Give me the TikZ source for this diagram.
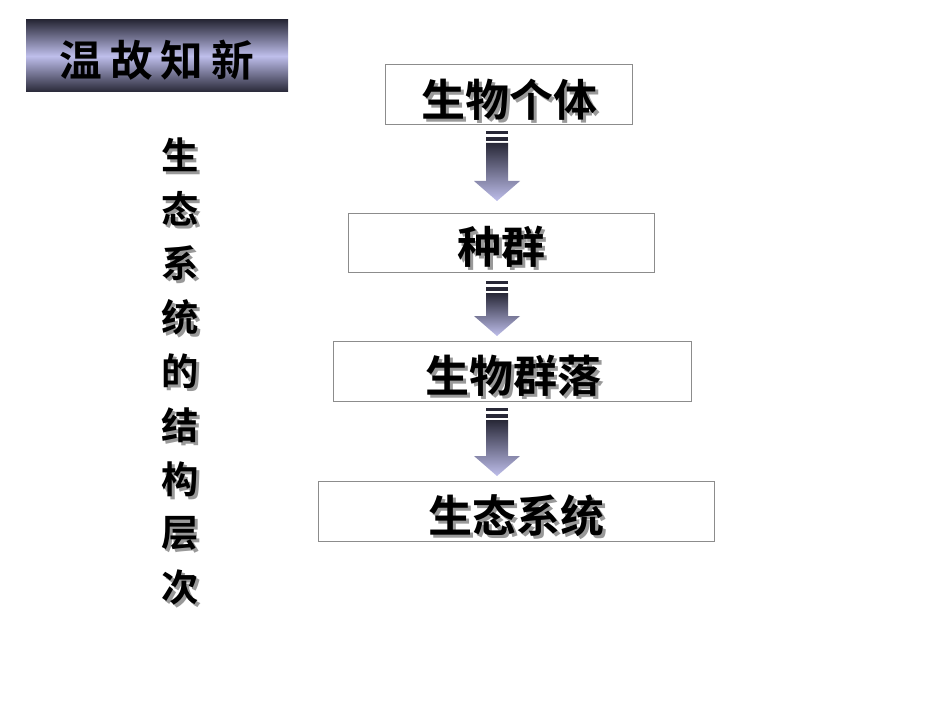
\documentclass[tikz,border=0pt]{standalone}
\usepackage{fontspec}
\newfontfamily\cjk{Noto Sans CJK SC Bold}
\usetikzlibrary{shadings}
\definecolor{lav}{RGB}{190,190,235}
\definecolor{dk}{RGB}{40,40,55}
\tikzset{
  lvl/.style={draw=black!45, line width=0.6pt, fill=white},
  lbl/.style={font=\cjk\fontsize{33}{34}\selectfont, inner sep=0pt},
  vch/.style={font=\cjk\fontsize{28}{29}\selectfont, inner sep=0pt},
}
\newcommand{\shtext}[5]{% name, x, y, style, text
  \node[#4, text=black!40] at (#2+3,#3+3) {#5};
  \node[#4] (#1) at (#2,#3) {#5};}
\newcommand{\myarrow}[3]{% center x, top y, bottom y
  \fill[dk] (#1-11,#2) rectangle (#1+11,#2+3);
  \fill[dk] (#1-11,#2+6) rectangle (#1+11,#2+10);
  \shade[top color=dk, bottom color=lav]
    (#1-11,#2+12) -- (#1+11,#2+12) -- (#1+11,#3-20) -- (#1+23,#3-20) -- (#1,#3) -- (#1-23,#3-20) -- (#1-11,#3-20) -- cycle;}
\begin{document}
\begin{tikzpicture}[x=0.75pt,y=-0.75pt]
\useasboundingbox (0,0) rectangle (950,713);
\fill[white] (0,0) rectangle (950,713);
% title
\shade[top color=dk, bottom color=dk, middle color=lav] (26,20) rectangle (288,92);
\node[font=\cjk\fontsize{32}{33}\selectfont, inner sep=0pt] (title) at (157,60) {温\hspace{6pt}故\hspace{6pt}知\hspace{6pt}新};
% vertical text
\foreach \c/\yy [count=\i] in {生/155,态/209,系/263,统/317,的/371,结/425,构/479,层/533,次/587} {
  \shtext{v\i}{180}{\yy}{vch}{\c}
}
% boxes
\draw[lvl] (385,64) rectangle (632,124);
\draw[lvl] (348,213) rectangle (654,272);
\draw[lvl] (333,341) rectangle (691,401);
\draw[lvl] (318,481) rectangle (714,541);
\shtext{b1}{509}{100}{lbl}{生物个体}
\shtext{b2}{501}{247}{lbl}{种群}
\shtext{b3}{513}{376}{lbl}{生物群落}
\shtext{b4}{516}{516}{lbl}{生态系统}
\myarrow{497}{131}{201}
\myarrow{497}{281}{336}
\myarrow{497}{408}{476}
\end{tikzpicture}
\end{document}
